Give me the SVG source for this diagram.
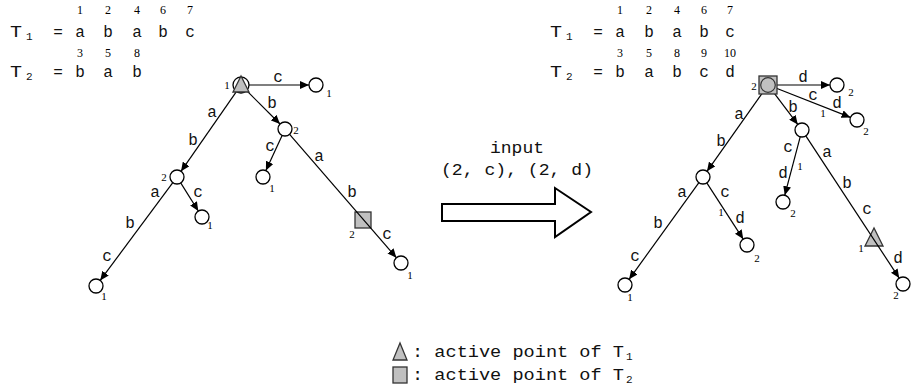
<svg xmlns="http://www.w3.org/2000/svg" width="912" height="389" viewBox="0 0 912 389">
<defs>
<marker id="ah" markerUnits="userSpaceOnUse" markerWidth="9" markerHeight="8" refX="9" refY="4" orient="auto">
<path d="M0,0 L9,4 L0,8 Z" fill="#000"/>
</marker>
</defs>
<style>
.t{font-family:"Liberation Mono","Courier New",monospace;font-size:16px;fill:#111;text-anchor:middle}
.h{font-family:"Liberation Mono","Courier New",monospace;font-size:16px;fill:#111}
.hs{font-family:"Liberation Mono","Courier New",monospace;font-size:11px;fill:#111}
.i{font-family:"Liberation Serif","Times New Roman",serif;font-size:12px;fill:#000;text-anchor:middle}
.n{font-family:"Liberation Serif","Times New Roman",serif;font-size:11px;fill:#000;text-anchor:middle}
.e{stroke:#000;stroke-width:1.2;fill:none;marker-end:url(#ah)}
.c{fill:#fff;stroke:#000;stroke-width:1.3}
.g{fill:#c0c0c0;stroke:#333;stroke-width:1.3}
</style>

<g id="header-left">
<text class="h" x="10" y="37" textLength="12" lengthAdjust="spacingAndGlyphs">T</text><text class="hs" x="26" y="40">1</text>
<text class="t" x="58" y="37">=</text>
<text class="t" x="80" y="37">a</text><text class="t" x="108" y="37">b</text><text class="t" x="137" y="37">a</text><text class="t" x="163" y="37">b</text><text class="t" x="190" y="37">c</text>
<text class="i" x="80" y="14">1</text><text class="i" x="108" y="14">2</text><text class="i" x="137" y="14">4</text><text class="i" x="163" y="14">6</text><text class="i" x="190" y="14">7</text>
<text class="h" x="10" y="77" textLength="12" lengthAdjust="spacingAndGlyphs">T</text><text class="hs" x="26" y="80">2</text>
<text class="t" x="58" y="77">=</text>
<text class="t" x="80" y="77">b</text><text class="t" x="108" y="77">a</text><text class="t" x="137" y="77">b</text>
<text class="i" x="80" y="57">3</text><text class="i" x="108" y="57">5</text><text class="i" x="137" y="57">8</text>
</g>

<g id="header-right">
<text class="h" x="550" y="37" textLength="12" lengthAdjust="spacingAndGlyphs">T</text><text class="hs" x="566" y="40">1</text>
<text class="t" x="598" y="37">=</text>
<text class="t" x="620" y="37">a</text><text class="t" x="649" y="37">b</text><text class="t" x="677" y="37">a</text><text class="t" x="704" y="37">b</text><text class="t" x="730" y="37">c</text>
<text class="i" x="620" y="14">1</text><text class="i" x="649" y="14">2</text><text class="i" x="677" y="14">4</text><text class="i" x="704" y="14">6</text><text class="i" x="730" y="14">7</text>
<text class="h" x="550" y="77" textLength="12" lengthAdjust="spacingAndGlyphs">T</text><text class="hs" x="566" y="80">2</text>
<text class="t" x="598" y="77">=</text>
<text class="t" x="620" y="77">b</text><text class="t" x="649" y="77">a</text><text class="t" x="677" y="77">b</text><text class="t" x="704" y="77">c</text><text class="t" x="730" y="77">d</text>
<text class="i" x="620" y="57">3</text><text class="i" x="649" y="57">5</text><text class="i" x="677" y="57">8</text><text class="i" x="704" y="57">9</text><text class="i" x="730" y="57">10</text>
</g>

<g id="active-points-on-edges">
<rect class="g" x="355" y="212" width="16" height="16"/>
<text class="n" x="352" y="238">2</text>
<polygon class="g" points="874,228 865,246 883,246"/>
<text class="n" x="861" y="252">1</text>
</g>

<g id="connectors">
<!-- left tree -->
<line class="e" x1="249" y1="85" x2="309" y2="85"/>
<line class="e" x1="246.7" y1="90.7" x2="280" y2="124"/>
<line class="e" x1="236.4" y1="91.6" x2="181" y2="171.3"/>
<line class="e" x1="282.1" y1="135.4" x2="265.9" y2="170.6"/>
<line class="e" x1="289.6" y1="134.3" x2="396.4" y2="257.7"/>
<line class="e" x1="180.7" y1="182.9" x2="198.3" y2="211"/>
<line class="e" x1="172.8" y1="182.6" x2="100.2" y2="280.4"/>
<!-- right tree -->
<line class="e" x1="777" y1="85" x2="830" y2="85"/>
<line class="e" x1="776.4" y1="88.3" x2="850.5" y2="117.4"/>
<line class="e" x1="773.4" y1="92.2" x2="797.8" y2="124.4"/>
<line class="e" x1="762.8" y1="92.4" x2="707" y2="171.3"/>
<line class="e" x1="800.2" y1="136.8" x2="784.8" y2="195.2"/>
<line class="e" x1="805.8" y1="135.9" x2="899.2" y2="278.1"/>
<line class="e" x1="706.8" y1="182.9" x2="743.2" y2="239.1"/>
<line class="e" x1="698.9" y1="182.7" x2="629.1" y2="279.3"/>
</g>

<g id="edge-labels">
<text class="t" x="278" y="82">c</text><text class="t" x="272" y="108">b</text><text class="t" x="212" y="117">a</text><text class="t" x="193" y="145">b</text>
<text class="t" x="270" y="151">c</text><text class="t" x="319" y="161">a</text><text class="t" x="352" y="197">b</text><text class="t" x="387" y="239">c</text>
<text class="t" x="198" y="197">c</text><text class="t" x="155" y="197">a</text><text class="t" x="130" y="228">b</text><text class="t" x="107" y="261">c</text>
<text class="t" x="803" y="82">d</text><text class="t" x="813" y="100">c</text><text class="t" x="837" y="108">d</text><text class="n" x="823" y="117">1</text>
<text class="t" x="793" y="112">b</text><text class="t" x="739" y="119">a</text><text class="t" x="721" y="146">b</text>
<text class="t" x="788" y="152">c</text><text class="n" x="800" y="170">1</text><text class="t" x="783" y="178">d</text>
<text class="t" x="827" y="157">a</text><text class="t" x="847" y="188">b</text><text class="t" x="867" y="214">c</text><text class="t" x="898" y="263">d</text>
<text class="t" x="682" y="197">a</text><text class="t" x="725" y="197">c</text><text class="n" x="721" y="216">1</text><text class="t" x="740" y="223">d</text>
<text class="t" x="658" y="228">b</text><text class="t" x="635" y="261">c</text>
</g>

<g id="L-root">
<circle class="c" cx="241" cy="85" r="8"/>
<polygon class="g" points="241,76 233,92 249,92"/>
<text class="n" x="227" y="89">1</text>
</g>
<g id="L-c"><circle class="c" cx="316" cy="85" r="7"/><text class="n" x="329" y="97">1</text></g>
<g id="L-b"><circle class="c" cx="285" cy="129" r="7"/><text class="n" x="296" y="134">2</text></g>
<g id="L-bc"><circle class="c" cx="263" cy="177" r="7"/><text class="n" x="272" y="192">1</text></g>
<g id="L-babc"><circle class="c" cx="401" cy="263" r="7"/><text class="n" x="410" y="279">1</text></g>
<g id="L-ab"><circle class="c" cx="177" cy="177" r="7"/><text class="n" x="164" y="181">2</text></g>
<g id="L-abc"><circle class="c" cx="202" cy="217" r="7"/><text class="n" x="210" y="229">1</text></g>
<g id="L-ababc"><circle class="c" cx="96" cy="286" r="7"/><text class="n" x="104" y="300">1</text></g>

<g id="R-root">
<rect class="g" x="759" y="76" width="18" height="18"/>
<circle cx="768" cy="85" r="7.3" fill="#c0c0c0" stroke="#333" stroke-width="1.2"/>
<text class="n" x="754" y="90">2</text>
</g>
<g id="R-d"><circle class="c" cx="837" cy="85" r="7"/><text class="n" x="851" y="96">2</text></g>
<g id="R-cd"><circle class="c" cx="857" cy="120" r="7"/><text class="n" x="866" y="135">2</text></g>
<g id="R-b"><circle class="c" cx="802" cy="130" r="7"/></g>
<g id="R-bcd"><circle class="c" cx="783" cy="202" r="7"/><text class="n" x="793" y="217">2</text></g>
<g id="R-babcd"><circle class="c" cx="903" cy="284" r="7"/><text class="n" x="896" y="299">2</text></g>
<g id="R-ab"><circle class="c" cx="703" cy="177" r="7"/></g>
<g id="R-abcd"><circle class="c" cx="747" cy="245" r="7"/><text class="n" x="757" y="262">2</text></g>
<g id="R-ababc"><circle class="c" cx="625" cy="285" r="7"/><text class="n" x="630" y="301">1</text></g>

<g id="transition">
<polygon points="442,204 555,204 555,188 591,212 555,237 555,221 442,221" fill="#fff" stroke="#000" stroke-width="2"/>
<text class="t" x="517" y="153" textLength="54" lengthAdjust="spacingAndGlyphs">input</text>
<text class="t" x="517" y="175" textLength="152" lengthAdjust="spacingAndGlyphs">(2, c), (2, d)</text>
</g>

<g id="legend">
<polygon class="g" points="400,343 393,360 407,360"/>
<text class="h" x="412" y="357" textLength="212" lengthAdjust="spacingAndGlyphs">: active point of T</text><text class="hs" x="626" y="360">1</text>
<rect class="g" x="393" y="367" width="14" height="16"/>
<text class="h" x="412" y="380" textLength="212" lengthAdjust="spacingAndGlyphs">: active point of T</text><text class="hs" x="626" y="383">2</text>
</g>
</svg>
